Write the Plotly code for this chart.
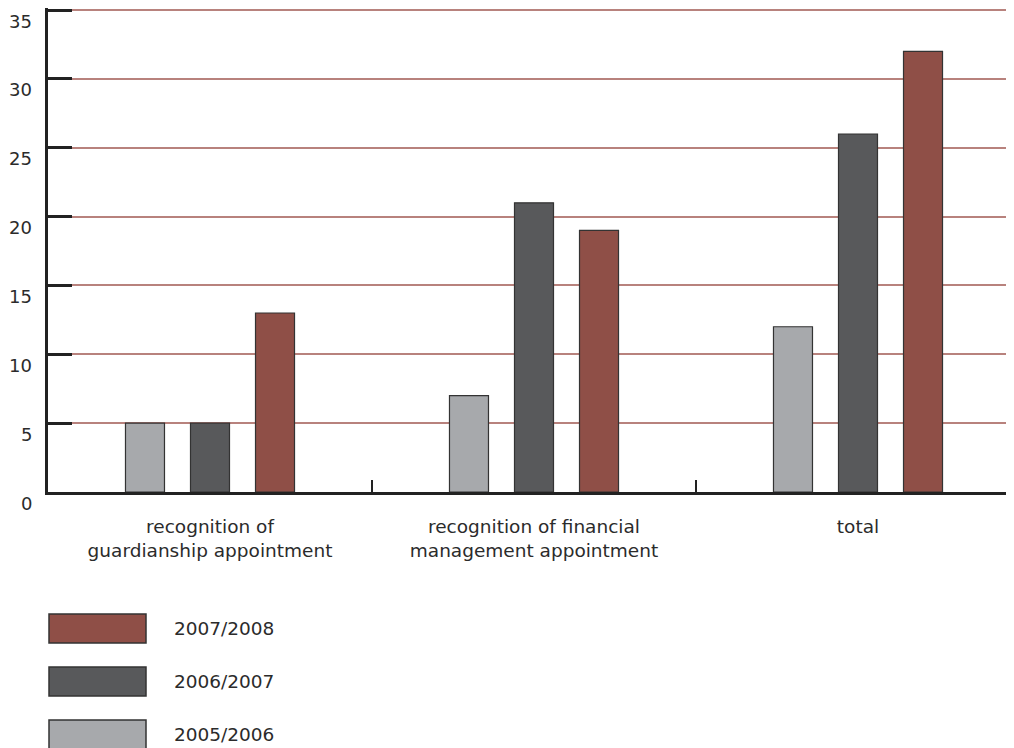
import plotly.graph_objects as go

categories = ["recognition of<br>guardianship appointment",
              "recognition of financial<br>management appointment",
              "total"]
series_names = ["2005/2006", "2006/2007", "2007/2008"]
values_0506 = [5, 7, 12]
values_0607 = [5, 21, 26]
values_0708 = [13, 19, 32]
y_ticks = [0, 5, 10, 15, 20, 25, 30, 35]

colors = ["#a7a9ac", "#58595b", "#8f4f47"]
series_values = [values_0506, values_0607, values_0708]

FONT = "DejaVu Sans"
TXT = "#2b2b2b"

fig = go.Figure()
for name, vals, col in zip(series_names, series_values, colors):
    fig.add_trace(go.Bar(
        x=categories, y=vals, name=name,
        marker=dict(color=col, line=dict(color="#333333", width=1.2)),
        showlegend=False,
    ))

# page is offset by 8px body margin; work in figure coordinates (page - 8)
OFF = 8
W, H = 1006, 740
L, R, T = 48 - OFF, 0, 0
plot_bottom = 492 - OFF
B = H - plot_bottom
pw = W - L - R
ph = plot_bottom - T
YMAX = 35.15

def py(page_y):
    # page pixel y -> paper fraction
    return (plot_bottom - (page_y - OFF)) / ph

def px(page_x):
    return (page_x - OFF - L) / pw

# y tick labels (shifted slightly below tick marks as in reference)
for v in y_ticks:
    fig.add_annotation(x=px(34), xref="paper", y=v, yref="y", text=str(v),
                       showarrow=False, xanchor="right", yanchor="middle",
                       yshift=-11, font=dict(family=FONT, size=18, color=TXT))

# legend drawn manually with large swatches (top to bottom: newest first)
legend_rows = list(zip(series_names, colors))[::-1]
for i, (name, col) in enumerate(legend_rows):
    top_px = 614 + i * 53
    bot_px = top_px + 29
    y0, y1 = py(bot_px), py(top_px)
    fig.add_shape(type="rect", xref="paper", yref="paper",
                  x0=px(49), x1=px(146), y0=y0, y1=y1,
                  fillcolor=col, line=dict(color="#333333", width=1.5))
    fig.add_annotation(x=px(172), xref="paper", y=(y0 + y1) / 2, yref="paper",
                       text=name, showarrow=False, xanchor="left", yanchor="middle",
                       font=dict(family=FONT, size=18.5, color=TXT))

fig.update_layout(
    width=W, height=H,
    margin=dict(l=L, r=R, t=T, b=B, pad=0),
    paper_bgcolor="white", plot_bgcolor="white",
    barmode="group", bargap=0.398, bargroupgap=0.4,
    font=dict(family=FONT, size=18, color=TXT),
)
fig.update_xaxes(
    range=[-0.5, -0.5 + pw / 324],
    showline=True, linecolor="#222222", linewidth=3,
    ticks="inside", tickson="boundaries", ticklen=12, tickwidth=2, tickcolor="#222222",
    showgrid=False, tickfont=dict(family=FONT, size=18.5, color=TXT),
    ticklabelstandoff=16,
)
fig.update_yaxes(
    range=[0, YMAX], tickvals=y_ticks, showticklabels=False,
    showline=True, linecolor="#222222", linewidth=3,
    ticks="inside", ticklen=24, tickwidth=3, tickcolor="#222222",
    showgrid=True, gridcolor="#b8827d", gridwidth=1.5, zeroline=False,
)

fig.write_html("out.html")
